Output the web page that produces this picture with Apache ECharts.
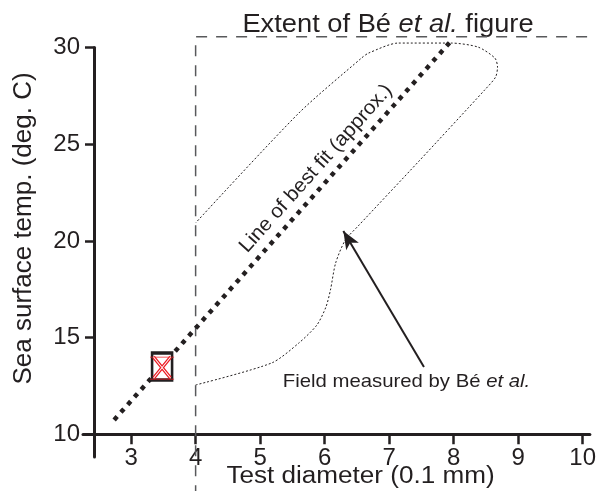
<!DOCTYPE html>
<html>
<head>
<meta charset="utf-8">
<script src="https://cdn.jsdelivr.net/npm/echarts@6/dist/echarts.min.js"></script>
<style>
html,body{margin:0;padding:0;background:#fff;}
#chart{width:599px;height:491px;}
</style>
</head>
<body>
<div id="chart"></div>
<script>
// ---- data ----
const xTicks = [3, 4, 5, 6, 7, 8, 9, 10];
const yTicks = [10, 15, 20, 25, 30];
const bestFit = [[2.76, 10.83], [7.96, 30.34]];
const fieldOutline = [
  [4.0, 12.55], [5.18, 13.69], [5.60, 14.72], [5.88, 15.65], [6.02, 16.58],
  [6.09, 17.46], [6.17, 18.85], [6.32, 20.04], [6.52, 20.77], [7.45, 24.08],
  [8.48, 27.80], [8.65, 28.47], [8.68, 28.99], [8.64, 29.45], [8.38, 30.02],
  [7.96, 30.23], [7.14, 30.23], [6.68, 29.71], [6.57, 29.45], [5.60, 26.61],
  [4.0, 20.93]
];
const extentBox = [[4.0, 6.8], [4.0, 30.56], [10.19, 30.56], [10.19, 6.8]];
const sample = [[3.48, 13.5]];
const arrowFrom = [7.54, 13.48];
const arrowTo = [6.29, 20.51];

const FONT = 'Liberation Sans, Arial, Helvetica, sans-serif';
const INK = '#231f20';

const chart = echarts.init(document.getElementById('chart'), null, {renderer: 'canvas'});
chart.setOption({
  animation: false,
  backgroundColor: '#fff',
  grid: {left: 83, right: 6.3, top: 47.5, bottom: 34, containLabel: false},
  xAxis: {
    type: 'value', min: 2.254, max: 10.112, offset: -22.7,
    splitLine: {show: false},
    axisLine: {show: true, lineStyle: {color: INK, width: 3}},
    axisTick: {show: true, customValues: xTicks, length: 10, lineStyle: {color: INK, width: 2.5}},
    axisLabel: {customValues: xTicks, fontSize: 24, margin: 12, color: INK, fontFamily: FONT}
  },
  yAxis: {
    type: 'value', min: 8.826, max: 30, offset: -11,
    splitLine: {show: false},
    axisLine: {show: true, lineStyle: {color: INK, width: 3}},
    axisTick: {show: true, customValues: yTicks, length: 9, lineStyle: {color: INK, width: 2.5}},
    axisLabel: {customValues: yTicks, fontSize: 24, margin: 14, color: INK, fontFamily: FONT}
  },
  graphic: [
    {type: 'text', x: 388, y: 24.5, scaleX: 1.07, silent: true,
     style: {text: 'Extent of Bé {i|et al.} figure', x: 0, y: 0, fill: INK,
       font: '25.5px ' + FONT, align: 'center', verticalAlign: 'middle',
       rich: {i: {fontStyle: 'italic', fontSize: 25.5, fontFamily: FONT, fill: INK}}}},
    {type: 'text', x: 24, y: 228.5, rotation: Math.PI / 2, silent: true,
     style: {text: 'Sea surface temp. (deg. C)', x: 0, y: 0, fill: INK,
       font: '26px ' + FONT, align: 'center', verticalAlign: 'middle'}},
    {type: 'text', x: 360.5, y: 476.5, scaleX: 1.11, silent: true,
     style: {text: 'Test diameter (0.1 mm)', x: 0, y: 0, fill: INK,
       font: '23.5px ' + FONT, align: 'center', verticalAlign: 'middle'}},
    {type: 'text', x: 406.5, y: 381.5, scaleX: 1.07, silent: true,
     style: {text: 'Field measured by Bé {i|et al.}', x: 0, y: 0, fill: INK,
       font: '19px ' + FONT, align: 'center', verticalAlign: 'middle',
       rich: {i: {fontStyle: 'italic', fontSize: 19, fontFamily: FONT, fill: INK}}}},
    {type: 'text', x: 316, y: 168.5, rotation: 48.2 * Math.PI / 180, scaleX: 1.04, silent: true,
     style: {text: 'Line of best fit (approx.)', x: 0, y: 0, fill: INK,
       font: '20px ' + FONT, align: 'center', verticalAlign: 'middle'}}
  ],
  series: [
    {
      name: 'extent', type: 'line', data: extentBox, symbol: 'none', clip: false, silent: true,
      lineStyle: {color: '#58595b', width: 1.5, type: [11, 9]}, z: 2
    },
    {
      name: 'field', type: 'line', data: fieldOutline, symbol: 'none', clip: false, silent: true,
      smooth: 0.25,
      lineStyle: {color: INK, width: 1, type: [2, 2]}, z: 3,
      markLine: {
        silent: true, symbol: ['none', 'arrow'], symbolSize: [11, 18], animation: false,
        label: {show: false},
        lineStyle: {color: INK, width: 2, type: 'solid'},
        data: [[{coord: arrowFrom}, {coord: arrowTo}]]
      }
    },
    {
      name: 'best fit', type: 'line', data: bestFit, symbol: 'none', clip: false, silent: true,
      lineStyle: {color: INK, width: 4.5, type: [0.01, 10.2], cap: 'square'}, z: 4
    },
    {
      name: 'sample box', type: 'scatter', data: sample, symbol: 'rect', symbolSize: [20, 27],
      itemStyle: {color: '#fff', borderColor: INK, borderWidth: 3, opacity: 1}, z: 5, silent: true
    },
    {
      name: 'sample caps', type: 'scatter', data: sample,
      symbol: 'path://M0,0L24,0M0,22L24,22', symbolSize: [24, 22],
      symbolOffset: [0, 1.5],
      itemStyle: {color: 'rgba(0,0,0,0)', borderColor: '#ed1c24', borderWidth: 1, opacity: 1}, z: 6, silent: true
    },
    {
      name: 'sample x', type: 'scatter', data: sample,
      symbol: 'path://M0,0L20,22M20,0L0,22', symbolSize: [17, 21],
      symbolOffset: [0, 1],
      itemStyle: {color: 'rgba(0,0,0,0)', borderColor: '#ed1c24', borderWidth: 3.4, opacity: 1}, z: 6, silent: true
    },
    {
      name: 'sample x inner', type: 'scatter', data: sample,
      symbol: 'path://M0,0L20,22M20,0L0,22', symbolSize: [17, 21],
      symbolOffset: [0, 1],
      itemStyle: {color: 'rgba(0,0,0,0)', borderColor: '#fff', borderWidth: 0.9, opacity: 1}, z: 7, silent: true
    }
  ]
});
</script>
</body>
</html>
